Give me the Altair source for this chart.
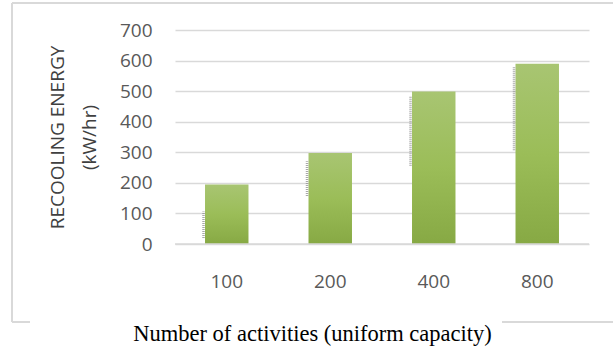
import altair as alt
import pandas as pd

# Recooling energy per number of activities
activities = ["100", "200", "400", "800"]
energy = [195, 298, 499, 590]
# faint dotted shadow strokes beside each bar (low/high value)
shadow_low = [20, 157, 256, 307]
shadow_high = [106, 271, 483, 578]

df = pd.DataFrame({
    "activities": activities,
    "energy": energy,
    "shadow_low": shadow_low,
    "shadow_high": shadow_high,
})

W, H = 414, 214
TEXT = "#595959"
GRID = "#d9d9d9"

x_scale = alt.Scale(type="band", paddingInner=0.58, paddingOuter=0.29)
y_scale = alt.Scale(domain=[0, 700], nice=False)

x_enc = alt.X(
    "activities:N",
    sort=activities,
    scale=x_scale,
    axis=alt.Axis(
        title="Number of activities (uniform capacity)",
        labelAngle=0,
        labelFont="Open Sans",
        labelFontSize=19,
        labelColor=TEXT,
        labelPadding=28,
        labelAlign="center",
        ticks=False,
        domain=False,
        titleFont="Liberation Serif",
        titleFontSize=22.5,
        titleFontWeight="normal",
        titleColor="black",
        titleX=137,
        titleY=89,
        titleAlign="center",
        titleBaseline="middle",
    ),
)

y_enc = alt.Y(
    "energy:Q",
    scale=y_scale,
    axis=alt.Axis(
        values=[0, 100, 200, 300, 400, 500, 600, 700],
        labelOverlap=False,
        title=["RECOOLING ENERGY", "(kW/hr)"],
        labelFont="Open Sans",
        labelFontSize=19,
        labelColor=TEXT,
        labelPadding=23,
        ticks=False,
        domain=False,
        grid=True,
        gridColor=GRID,
        gridWidth=1.5,
        titleFont="Open Sans",
        titleFontSize=19,
        titleFontWeight="normal",
        titleColor="#404040",
        titleLineHeight=32,
        titleX=-118,
        titleY=107,
        titleAngle=-90,
        titleAlign="center",
        titleBaseline="middle",
    ),
)

bars = alt.Chart(df).mark_bar(
    color=alt.Gradient(
        gradient="linear",
        x1=0, x2=0, y1=0, y2=1,
        stops=[
            alt.GradientStop(color="#a8c572", offset=0),
            alt.GradientStop(color="#9bbd58", offset=0.5),
            alt.GradientStop(color="#87a944", offset=1),
        ],
    )
).encode(x=x_enc, y=y_enc)

shadows = alt.Chart(df).mark_rule(
    color="#8c8c8c", strokeWidth=2.5, strokeDash=[1, 1], opacity=0.75, xOffset=-1.5
).encode(
    x=alt.X("activities:N", sort=activities, scale=x_scale, bandPosition=0, axis=None),
    y=alt.Y("shadow_low:Q", scale=y_scale, axis=None),
    y2="shadow_high:Q",
)

zero_line = alt.Chart(pd.DataFrame({"v": [0]})).mark_rule(
    color=GRID, strokeWidth=1.5
).encode(y=alt.Y("v:Q", scale=y_scale, axis=None))

# light outer frame around the chart
frame_style = dict(color=GRID, strokeWidth=1.5, clip=False)
frame_left = alt.Chart(df).mark_rule(**frame_style).encode(
    x=alt.value(-163), y=alt.value(-27), y2=alt.value(292)
)
frame_top = alt.Chart(df).mark_rule(**frame_style).encode(
    x=alt.value(-163), x2=alt.value(460), y=alt.value(-27)
)
frame_bottom_l = alt.Chart(df).mark_rule(**frame_style).encode(
    x=alt.value(-163), x2=alt.value(-145), y=alt.value(292)
)
frame_bottom_r = alt.Chart(df).mark_rule(**frame_style).encode(
    x=alt.value(327), x2=alt.value(460), y=alt.value(292)
)

chart = alt.layer(
    bars, shadows, zero_line,
    frame_left, frame_top, frame_bottom_l, frame_bottom_r,
).resolve_axis(
    x="independent", y="independent"
).properties(
    width=W,
    height=H,
    autosize=alt.AutoSizeParams(type="none"),
    padding={"left": 175, "top": 30, "right": 24, "bottom": 107},
    background="white",
).configure_view(stroke=None)

chart.save("out.html", embed_options={"renderer": "svg", "actions": False})
